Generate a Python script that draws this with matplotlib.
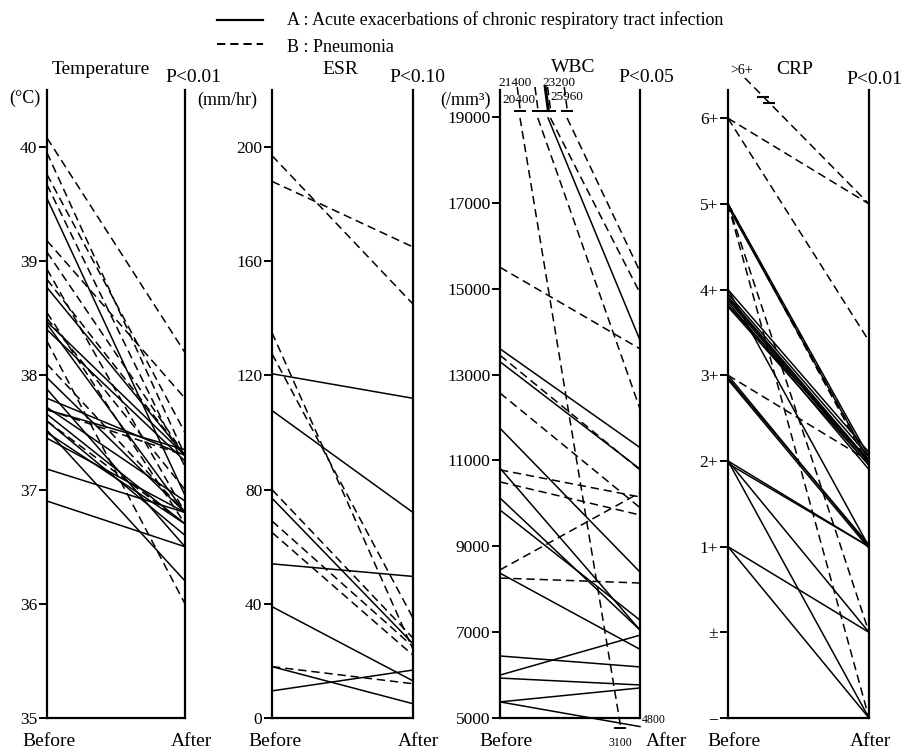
import matplotlib
matplotlib.use("Agg")
import matplotlib.pyplot as plt
from matplotlib.lines import Line2D

plt.rcParams['font.family'] = ['Liberation Serif', 'DejaVu Serif']
plt.rcParams['lines.scale_dashes'] = False

# A : Acute exacerbations (trait plein), B : Pneumonia (tirets)

# Temperature (deg C)
temp_A_avant = [39.55, 38.77, 38.47, 38.45, 38.4, 37.98, 37.88, 37.8, 37.72, 37.7, 37.66, 37.6, 37.52, 37.5, 37.45, 37.18, 36.9]
temp_A_apres = [36.95, 37.3, 37.3, 36.8, 37.25, 36.8, 36.5, 37.3, 36.9, 37.35, 36.7, 36.6, 36.2, 36.7, 36.8, 36.8, 36.5]
temp_B_avant = [40.08, 39.95, 39.76, 39.67, 39.18, 39.08, 38.93, 38.84, 38.55, 38.5, 38.3, 38.1, 37.7, 37.6]
temp_B_apres = [38.2, 37.3, 37.5, 37.2, 37.8, 37.3, 36.8, 37.3, 36.7, 37.0, 36.0, 36.8, 37.3, 36.7]

# ESR (mm/hr)
esr_A_avant = [120.6, 107.7, 77, 54, 39, 18, 9.5]
esr_A_apres = [112, 72, 26, 49.6, 13, 5, 16.8]
esr_B_avant = [197, 188, 135, 127.6, 80, 69, 65, 18]
esr_B_apres = [145, 165, 24, 35, 28, 25, 22, 12]

# WBC (/mm3)
wbc_A_avant = [13600, 13300, 11750, 10820, 10125, 9845, 8375, 6445, 6000, 5930, 5375, 5375]
wbc_A_apres = [11300, 10800, 8400, 7050, 7050, 7280, 6600, 6190, 6930, 5770, 5700, 4800]
wbc_B_avant = [15500, 13450, 12570, 10780, 10500, 8450, 8260]
wbc_B_apres = [13600, 10780, 9900, 10150, 9730, 10250, 8145]

# WBC hors echelle (valeur avant ecrite au dessus du panneau)
wbc_haut_avant = [21400, 20400, 23200, 23200, 25960]
wbc_haut_apres = [3100, 12200, 13800, 14900, 15400]
wbc_haut_groupe = ["B", "B", "A", "B", "B"]
wbc_haut_depart = [0.143, 0.27, 0.343, 0.36, 0.479]   # position de la coupure
wbc_haut_etiq = [(0.107, 19790), (0.136, 19395), (0.42, 19790), None, (0.48, 19465)]

# CRP : 0 = "-", 1 = "±", 2 = "1+", ... 7 = "6+"
crp_etiquettes = ["−", "±", "1+", "2+", "3+", "4+", "5+", "6+"]
crp_A_avant = [6.0, 5.97, 5.0, 4.95, 4.92, 4.9, 4.88, 4.85, 4.82, 4.8, 5.0, 4.0, 3.97, 3.95, 3.0, 2.97, 3.0, 3.0, 2.0, 2.0]
crp_A_apres = [3.05, 3.0, 3.1, 3.05, 3.0, 2.98, 2.95, 2.9, 3.0, 2.95, 2.0, 2.0, 2.02, 1.98, 2.0, 2.0, 1.0, 0.0, 1.0, 0.0]
crp_B_avant = [7.0, 7.0, 6.0, 6.0, 6.0, 6.0, 4.0]
crp_B_apres = [6.0, 4.4, 3.0, 2.95, 1.0, 0.0, 3.0]
crp_sup6_apres = 6.0   # ligne ">6+"

LARGEUR, HAUTEUR = 905, 755
TIRETS = (0, (6, 3.5))
LW = 1.1

fig = plt.figure(figsize=(9.05, 7.55), dpi=100)


def px(x, y):
    return x / LARGEUR, 1 - y / HAUTEUR


def texte(x, y, s, taille=13, **kw):
    fx, fy = px(x, y)
    fig.text(fx, fy, s, fontsize=taille, ha='center', va='center', **kw)


def nouveau_panneau(x_gauche, x_droite, ymin, ymax):
    g, b = px(x_gauche, 718)
    d, h = px(x_droite, 90)
    ax = fig.add_axes([g, b, d - g, h - b])
    ax.set_xlim(0, 1)
    ax.set_ylim(ymin, ymax)
    ax.spines['top'].set_visible(False)
    for s in ['left', 'right', 'bottom']:
        ax.spines[s].set_linewidth(1.6)
    ax.set_xticks([])
    ax.tick_params(axis='y', direction='out', length=6, width=1.4, labelsize=12.5, pad=1)
    ax.patch.set_alpha(0)
    return ax


def lignes(ax, avant, apres, style):
    for a, b in zip(avant, apres):
        ax.plot([0, 1], [a, b], color='black', lw=LW, ls=style, clip_on=False)


# ---- Temperature ----
ax1 = nouveau_panneau(47, 185, 35, 40.5)
lignes(ax1, temp_A_avant, temp_A_apres, '-')
lignes(ax1, temp_B_avant, temp_B_apres, TIRETS)
ax1.set_yticks([35, 36, 37, 38, 39, 40])

# ---- ESR ----
ax2 = nouveau_panneau(272, 413, 0, 220)
lignes(ax2, esr_A_avant, esr_A_apres, '-')
lignes(ax2, esr_B_avant, esr_B_apres, TIRETS)
ax2.set_yticks([0, 40, 80, 120, 160, 200])

# ---- WBC ----
ax3 = nouveau_panneau(500, 640, 5000, 19630)
lignes(ax3, wbc_A_avant, wbc_A_apres, '-')
lignes(ax3, wbc_B_avant, wbc_B_apres, TIRETS)
ax3.set_yticks([5000, 7000, 9000, 11000, 13000, 15000, 17000, 19000])

for v_av, v_ap, grp, x0, etiq in zip(wbc_haut_avant, wbc_haut_apres, wbc_haut_groupe,
                                     wbc_haut_depart, wbc_haut_etiq):
    style = '-' if grp == 'A' else TIRETS
    if v_ap < 5000:
        # coupure en bas du panneau
        x1, y1 = 0.86, 4830
        ax3.plot([x1], [y1 - 60], marker='_', ms=8, mew=1.4, color='black', clip_on=False)
        ax3.text(x1, 4420, str(v_ap), fontsize=8.5, ha='center', va='center')
    else:
        x1, y1 = 1, v_ap
    ax3.plot([x0, x1], [18980, y1], color='black', lw=LW, ls=style, clip_on=False)
    ax3.plot([x0 - 0.02, x0], [19700, 19200], color='black',
             lw=LW * (2 if grp == 'A' else 1), ls=style, clip_on=False)
    ax3.plot([x0], [19130], marker='_', ms=8, mew=1.4, color='black', clip_on=False)
    if etiq is not None:
        ax3.text(etiq[0], etiq[1], str(v_av), fontsize=9.5, ha='center', va='center')

ax3.text(1.01, 4960, "4800", fontsize=8.5, ha='left', va='center')

# ---- CRP ----
ax4 = nouveau_panneau(728, 869, 0, 7.33)
lignes(ax4, crp_A_avant, crp_A_apres, '-')
lignes(ax4, crp_B_avant, crp_B_apres, TIRETS)
ax4.plot([0.12, 1], [7.47, crp_sup6_apres], color='black', lw=LW, ls=TIRETS, clip_on=False)
ax4.plot([0.25], [7.25], marker='_', ms=9, mew=1.5, color='black', clip_on=False)
ax4.plot([0.29], [7.18], marker='_', ms=9, mew=1.5, color='black', clip_on=False)
ax4.set_yticks(range(len(crp_etiquettes)))
ax4.set_yticklabels(crp_etiquettes)

# ---- titres ----
texte(101, 70, "Temperature", 14)
texte(193, 78, "P<0.01", 14)
texte(25, 98, "(°C)", 13)
texte(340, 70, "ESR", 14)
texte(417, 78, "P<0.10", 14)
texte(227, 100, "(mm/hr)", 13)
texte(573, 68, "WBC", 14)
texte(646, 78, "P<0.05", 14)
texte(465, 100, "(/mm³)", 13)
texte(795, 70, "CRP", 14)
texte(742, 70, ">6+", 10)
texte(874, 80, "P<0.01", 14)

for xb, xa in [(49, 191), (275, 418), (506, 666), (734, 870)]:
    texte(xb, 742, "Before", 14)
    texte(xa, 742, "After", 14)

# ---- legende ----
x0, y0 = px(217, 20)
x1, _ = px(263, 20)
fig.add_artist(Line2D([x0, x1], [y0, y0], color='black', lw=1.6))
_, y0 = px(217, 44)
fig.add_artist(Line2D([x0, x1], [y0, y0], color='black', lw=1.4, ls=TIRETS))
fx, fy = px(287, 20)
fig.text(fx, fy, "A : Acute exacerbations of chronic respiratory tract infection", fontsize=13, va='center')
fx, fy = px(287, 47)
fig.text(fx, fy, "B : Pneumonia", fontsize=13, va='center')

fig.savefig("out.png", dpi=100)
